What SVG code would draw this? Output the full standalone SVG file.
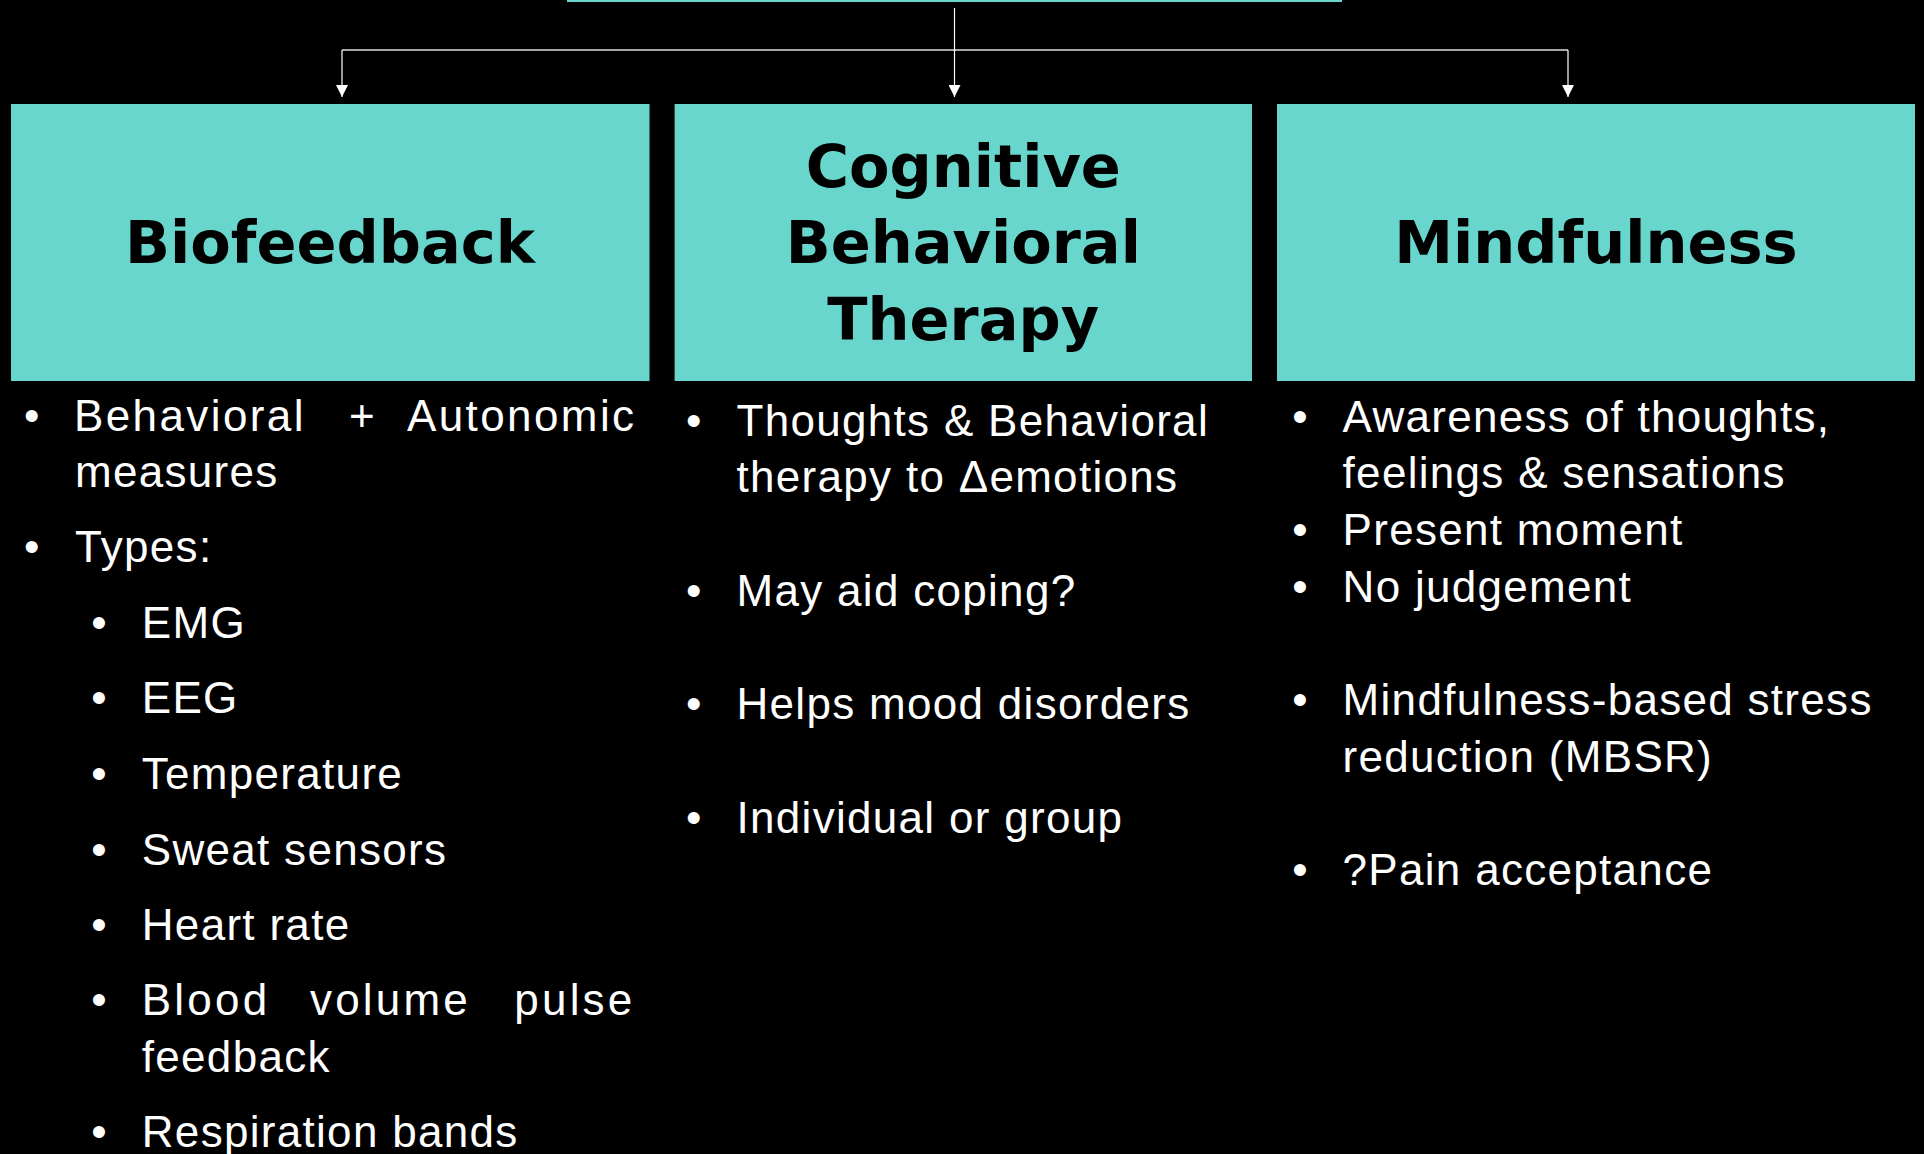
<svg xmlns="http://www.w3.org/2000/svg" width="1924" height="1154" viewBox="0 0 1924 1154">
  <defs>
    <style>
      .box { fill: #68d6cc; }
      .head { font-family: "DejaVu Sans", Lato, sans-serif; font-weight: bold; font-size: 59px; fill: #000; text-anchor: middle; }
      .body { font-family: "Liberation Sans", Arial, sans-serif; font-size: 44px; fill: #fff; letter-spacing: 1.3px; }
      .dot { font-family: "Liberation Sans", Arial, sans-serif; font-size: 44px; fill: #fff; text-anchor: middle; }
      .wire { stroke: #fff; stroke-width: 1.2; fill: none; }
      .bar { stroke: #a6a6a6; stroke-width: 1.8; fill: none; }
    </style>
    <marker id="tip" markerUnits="userSpaceOnUse" markerWidth="12" markerHeight="12" viewBox="0 0 10 10" refX="10" refY="5" orient="auto">
      <path d="M0,0 L10,5 L0,10 Z" fill="#fff"/>
    </marker>
  </defs>

  <rect x="0" y="0" width="1924" height="1154" fill="#000"/>

  <!-- parent box, mostly above the visible area -->
  <g id="root">
    <rect class="box" x="567" y="-60" width="775" height="62"/>
  </g>

  <g id="connectors">
    <line class="bar" x1="342" y1="50" x2="1568" y2="50"/>
    <line class="wire" x1="954.5" y1="8" x2="954.5" y2="97" marker-end="url(#tip)"/>
    <line class="wire" x1="342" y1="50" x2="342" y2="97" marker-end="url(#tip)"/>
    <line class="wire" x1="1568" y1="50" x2="1568" y2="97" marker-end="url(#tip)"/>
  </g>

  <g id="biofeedback">
    <rect class="box" x="11" y="104" width="638.5" height="277"/>
    <text class="head" x="330" y="263">Biofeedback</text>
    <text class="dot" x="31.6" y="430.7">•</text>
    <text class="body" y="430.7" style="letter-spacing:2.4px"><tspan x="74">Behavioral</tspan><tspan x="349">+</tspan><tspan x="407">Autonomic</tspan></text>
    <text class="body" x="75" y="486.7">measures</text>
    <text class="dot" x="31.6" y="561.7">•</text>
    <text class="body" x="75" y="561.7">Types:</text>
    <text class="dot" x="99" y="638">•</text>
    <text class="body" x="141.8" y="638">EMG</text>
    <text class="dot" x="99" y="713">•</text>
    <text class="body" x="141.8" y="713">EEG</text>
    <text class="dot" x="99" y="789">•</text>
    <text class="body" x="141.8" y="789">Temperature</text>
    <text class="dot" x="99" y="865">•</text>
    <text class="body" x="141.8" y="865">Sweat sensors</text>
    <text class="dot" x="99" y="940">•</text>
    <text class="body" x="141.8" y="940">Heart rate</text>
    <text class="dot" x="99" y="1015">•</text>
    <text class="body" y="1015" style="letter-spacing:3.2px"><tspan x="141.8">Blood</tspan><tspan x="310">volume</tspan><tspan x="514.3">pulse</tspan></text>
    <text class="body" x="141.8" y="1071.7">feedback</text>
    <text class="dot" x="99" y="1146.7">•</text>
    <text class="body" x="141.8" y="1146.7">Respiration bands</text>
  </g>

  <g id="cbt">
    <rect class="box" x="674.6" y="104" width="577.4" height="277"/>
    <text class="head" x="963.3" y="186.7">Cognitive</text>
    <text class="head" x="963.3" y="263">Behavioral</text>
    <text class="head" x="963.3" y="340">Therapy</text>
    <text class="dot" x="693.7" y="436">•</text>
    <text class="body" x="736.5" y="436">Thoughts &amp; Behavioral</text>
    <text class="body" x="736.5" y="491.7">therapy to Δemotions</text>
    <text class="dot" x="693.7" y="606">•</text>
    <text class="body" x="736.5" y="606">May aid coping?</text>
    <text class="dot" x="693.7" y="719.3">•</text>
    <text class="body" x="736.5" y="719.3">Helps mood disorders</text>
    <text class="dot" x="693.7" y="833.3">•</text>
    <text class="body" x="736.5" y="833.3">Individual or group</text>
  </g>

  <g id="mindfulness">
    <rect class="box" x="1277" y="104" width="638" height="277"/>
    <text class="head" x="1596" y="263">Mindfulness</text>
    <text class="dot" x="1300" y="431.7">•</text>
    <text class="body" x="1342.6" y="431.7">Awareness of thoughts,</text>
    <text class="body" x="1342.6" y="488.3">feelings &amp; sensations</text>
    <text class="dot" x="1300" y="545">•</text>
    <text class="body" x="1342.6" y="545">Present moment</text>
    <text class="dot" x="1300" y="601.7">•</text>
    <text class="body" x="1342.6" y="601.7">No judgement</text>
    <text class="dot" x="1300" y="715">•</text>
    <text class="body" x="1342.6" y="715">Mindfulness-based stress</text>
    <text class="body" x="1342.6" y="771.7">reduction (MBSR)</text>
    <text class="dot" x="1300" y="885">•</text>
    <text class="body" x="1342.6" y="885">?Pain acceptance</text>
  </g>
</svg>
